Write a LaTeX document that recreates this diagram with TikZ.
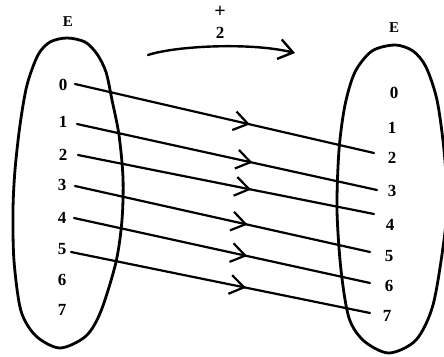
\documentclass[tikz,border=0pt]{standalone}
\usepackage{fontspec}
\setmainfont{Liberation Serif}
\usetikzlibrary{arrows.meta,decorations.markings}
\tikzset{
  setline/.style={line width=2.8pt, line join=round},
  maplabel/.style={font=\fontsize{17}{17}\selectfont\bfseries, inner sep=0pt},
  setname/.style={font=\fontsize{15}{15}\selectfont\bfseries, inner sep=0pt},
  mapline/.style={line width=2.2pt, line cap=round,
    decoration={markings, mark=at position 0.585 with {\arrow{Straight Barb[length=14pt,width=19pt]}}},
    postaction={decorate}},
  toparrow/.style={line width=2.4pt, line cap=round, -{Straight Barb[length=14pt,width=20pt]}}
}
\begin{document}
\begin{tikzpicture}[x=1pt,y=-1pt]
\useasboundingbox (0,0) rectangle (444,356);
\fill[white] (0,0) rectangle (444,356);
% set names
\node[setname] (nameL) at (68,22) {E};
\node[setname] (nameR) at (394,28) {E};
% left egg
\draw[setline] plot[smooth cycle, tension=0.5] coordinates {(67,38) (85,42) (97,54) (106,72) (112,100) (119,135) (123,178) (122,220) (116,262) (101,311) (86,336) (60,348) (36,336) (21,311) (14,261) (13,210) (15,170) (20,125) (27,85) (38,55) (50,42)};
% right egg
\draw[setline] plot[smooth cycle, tension=0.5] coordinates {(395,45) (413,51) (426,67) (437,100) (444,150) (447,200) (444,240) (433,305) (416,340) (389,353) (364,341) (349,318) (341,270) (337,210) (339,150) (345,105) (355,72) (372,51)};
% left labels
\node[maplabel] (l0) at (63,85) {0};
\node[maplabel] (l1) at (63,122) {1};
\node[maplabel] (l2) at (63,155) {2};
\node[maplabel] (l3) at (62,185) {3};
\node[maplabel] (l4) at (62,218) {4};
\node[maplabel] (l5) at (62,249) {5};
\node[maplabel] (l6) at (62,280) {6};
\node[maplabel] (l7) at (62,310) {7};
% right labels
\node[maplabel] (r0) at (394,93) {0};
\node[maplabel] (r1) at (392,128) {1};
\node[maplabel] (r2) at (392,158) {2};
\node[maplabel] (r3) at (392,191) {3};
\node[maplabel] (r4) at (390,225) {4};
\node[maplabel] (r5) at (389,256) {5};
\node[maplabel] (r6) at (389,286) {6};
\node[maplabel] (r7) at (387,316) {7};
% line end points
\coordinate (s0) at (75,84);
\coordinate (s1) at (77,124);
\coordinate (s2) at (78,155);
\coordinate (s3) at (75,186);
\coordinate (s4) at (74,218);
\coordinate (s5) at (71,252);
\coordinate (t0) at (374,153);
\coordinate (t1) at (377,190);
\coordinate (t2) at (374,214);
\coordinate (t3) at (370,252);
\coordinate (t4) at (370,283);
\coordinate (t5) at (370,313);
\draw[mapline] (s0) -- (t0);
\draw[mapline] (s1) -- (t1);
\draw[mapline] (s2) -- (t2);
\draw[mapline] (s3) -- (t3);
\draw[mapline] (s4) -- (t4);
\draw[mapline] (s5) -- (t5);
% top operation arrow
\node[font=\fontsize{20}{20}\selectfont\bfseries, inner sep=0pt] (plus) at (220,12) {+};
\node[maplabel] (two) at (220,33) {2};
\coordinate (a0) at (148,55);
\coordinate (a1) at (295,53);
\draw[toparrow] (a0) .. controls (175,46) and (250,42) .. (a1);
\end{tikzpicture}
\end{document}
